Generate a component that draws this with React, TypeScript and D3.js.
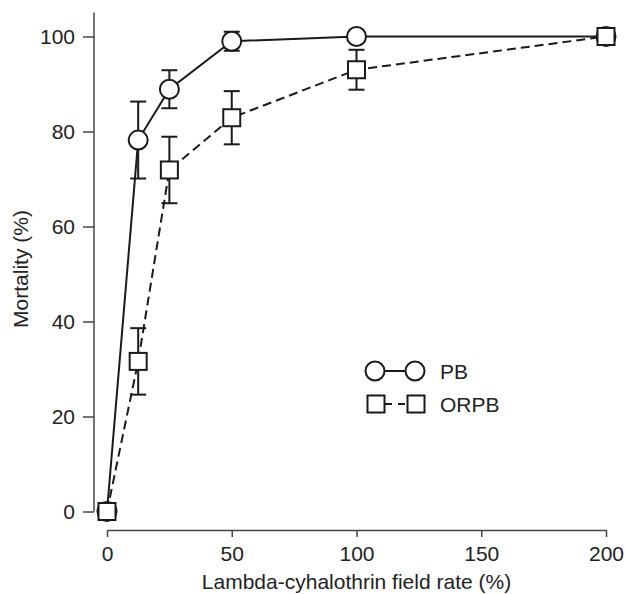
import React, { useRef, useEffect } from "react";
import * as d3 from "d3";

// field rate (%)
const rates = [0, 12.5, 25, 50, 100, 200];
// PB series
const pbMortality = [0, 78.2, 88.9, 99, 100, 100];
const pbError = [0, 8.1, 4, 2, 0, 0];
// ORPB series
const orpbMortality = [0, 31.6, 71.9, 82.9, 93, 100];
const orpbError = [0, 7, 7, 5.6, 4.2, 0];

const xTicks = [0, 50, 100, 150, 200];
const yTicks = [0, 20, 40, 60, 80, 100];

const App = () => {
    const svgRef = useRef<SVGSVGElement>(null);

    const width = 625;
    const height = 594;
    const font = "'Liberation Sans', Arial, sans-serif";
    const fontSize = "21px";

    useEffect(() => {
        const svg = d3.select(svgRef.current);
        svg.selectAll("*").remove();

        const xScale = d3.scaleLinear().domain([0, 200]).range([107, 606]);
        const yScale = d3.scaleLinear().domain([0, 100]).range([511.5, 36.5]);

        svg.append("rect")
            .attr("width", width)
            .attr("height", height)
            .attr("fill", "#ffffff");

        // axes
        const xAxis = svg.append("g")
            .attr("transform", "translate(0,530)")
            .call(d3.axisBottom(xScale).tickValues(xTicks).tickSize(7).tickPadding(9).tickSizeOuter(0));
        const yAxis = svg.append("g")
            .attr("transform", "translate(94,0)")
            .call(d3.axisLeft(yScale).tickValues(yTicks).tickSize(11).tickPadding(8).tickSizeOuter(0));

        [xAxis, yAxis].forEach(ax => {
            ax.select(".domain").attr("stroke", "#444").attr("stroke-width", 1.5);
            ax.selectAll(".tick line").attr("stroke", "#444").attr("stroke-width", 1.5);
            ax.selectAll("text")
                .attr("fill", "#222")
                .style("font-family", font)
                .style("font-size", fontSize);
        });
        // y axis extends above 100
        yAxis.select(".domain").attr("d", `M0,${yScale(0)}V12.5`);

        svg.append("text")
            .attr("x", (xScale(0) + xScale(200)) / 2)
            .attr("y", 589)
            .attr("text-anchor", "middle")
            .style("font-family", font)
            .style("font-size", fontSize)
            .attr("fill", "#222")
            .text("Lambda-cyhalothrin field rate (%)");

        svg.append("text")
            .attr("transform", "translate(28,269) rotate(-90)")
            .attr("text-anchor", "middle")
            .style("font-family", font)
            .style("font-size", fontSize)
            .attr("fill", "#222")
            .text("Mortality (%)");

        const line = d3.line<number>()
            .x((d, i) => xScale(rates[i]))
            .y(d => yScale(d));

        const drawErrors = (vals: number[], errs: number[]) => {
            const g = svg.append("g").attr("stroke", "#1a1a1a").attr("stroke-width", 2);
            vals.forEach((v, i) => {
                if (!errs[i]) return;
                const x = xScale(rates[i]);
                const y0 = yScale(v - errs[i]);
                const y1 = yScale(v + errs[i]);
                g.append("line").attr("x1", x).attr("x2", x).attr("y1", y0).attr("y2", y1);
                g.append("line").attr("x1", x - 8).attr("x2", x + 8).attr("y1", y0).attr("y2", y0);
                g.append("line").attr("x1", x - 8).attr("x2", x + 8).attr("y1", y1).attr("y2", y1);
            });
        };

        // lines
        svg.append("path")
            .attr("d", line(pbMortality))
            .attr("fill", "none")
            .attr("stroke", "#1a1a1a")
            .attr("stroke-width", 2);
        svg.append("path")
            .attr("d", line(orpbMortality))
            .attr("fill", "none")
            .attr("stroke", "#1a1a1a")
            .attr("stroke-width", 2)
            .attr("stroke-dasharray", "9,5");

        drawErrors(pbMortality, pbError);
        drawErrors(orpbMortality, orpbError);

        // markers
        svg.selectAll(".pb")
            .data(pbMortality)
            .enter()
            .append("circle")
            .attr("class", "pb")
            .attr("cx", (d, i) => xScale(rates[i]))
            .attr("cy", d => yScale(d))
            .attr("r", 9.5)
            .attr("fill", "#fff")
            .attr("stroke", "#1a1a1a")
            .attr("stroke-width", 2);

        svg.selectAll(".orpb")
            .data(orpbMortality)
            .enter()
            .append("rect")
            .attr("class", "orpb")
            .attr("x", (d, i) => xScale(rates[i]) - 8.5)
            .attr("y", d => yScale(d) - 8.5)
            .attr("width", 17)
            .attr("height", 17)
            .attr("fill", "#fff")
            .attr("stroke", "#1a1a1a")
            .attr("stroke-width", 2);

        // legend
        const lg = svg.append("g");
        lg.append("line").attr("x1", 375).attr("x2", 415).attr("y1", 371).attr("y2", 371)
            .attr("stroke", "#1a1a1a").attr("stroke-width", 2);
        [375, 415].forEach(cx => {
            lg.append("circle").attr("cx", cx).attr("cy", 371).attr("r", 9.5)
                .attr("fill", "#fff").attr("stroke", "#1a1a1a").attr("stroke-width", 2);
        });
        lg.append("line").attr("x1", 385).attr("x2", 407).attr("y1", 404).attr("y2", 404)
            .attr("stroke", "#1a1a1a").attr("stroke-width", 2).attr("stroke-dasharray", "7,6");
        [376, 416].forEach(cx => {
            lg.append("rect").attr("x", cx - 8.5).attr("y", 404 - 8.5).attr("width", 17).attr("height", 17)
                .attr("fill", "#fff").attr("stroke", "#1a1a1a").attr("stroke-width", 2);
        });
        lg.append("text").attr("x", 440).attr("y", 378.5)
            .style("font-family", font).style("font-size", fontSize).attr("fill", "#222").text("PB");
        lg.append("text").attr("x", 440).attr("y", 411.5)
            .style("font-family", font).style("font-size", fontSize).attr("fill", "#222").text("ORPB");
    }, []);

    return (
        <div style={{ position: "absolute", left: 0, top: 0 }}>
            <svg ref={svgRef} width={width} height={height} style={{ display: "block" }}></svg>
        </div>
    );
};

export default App;
